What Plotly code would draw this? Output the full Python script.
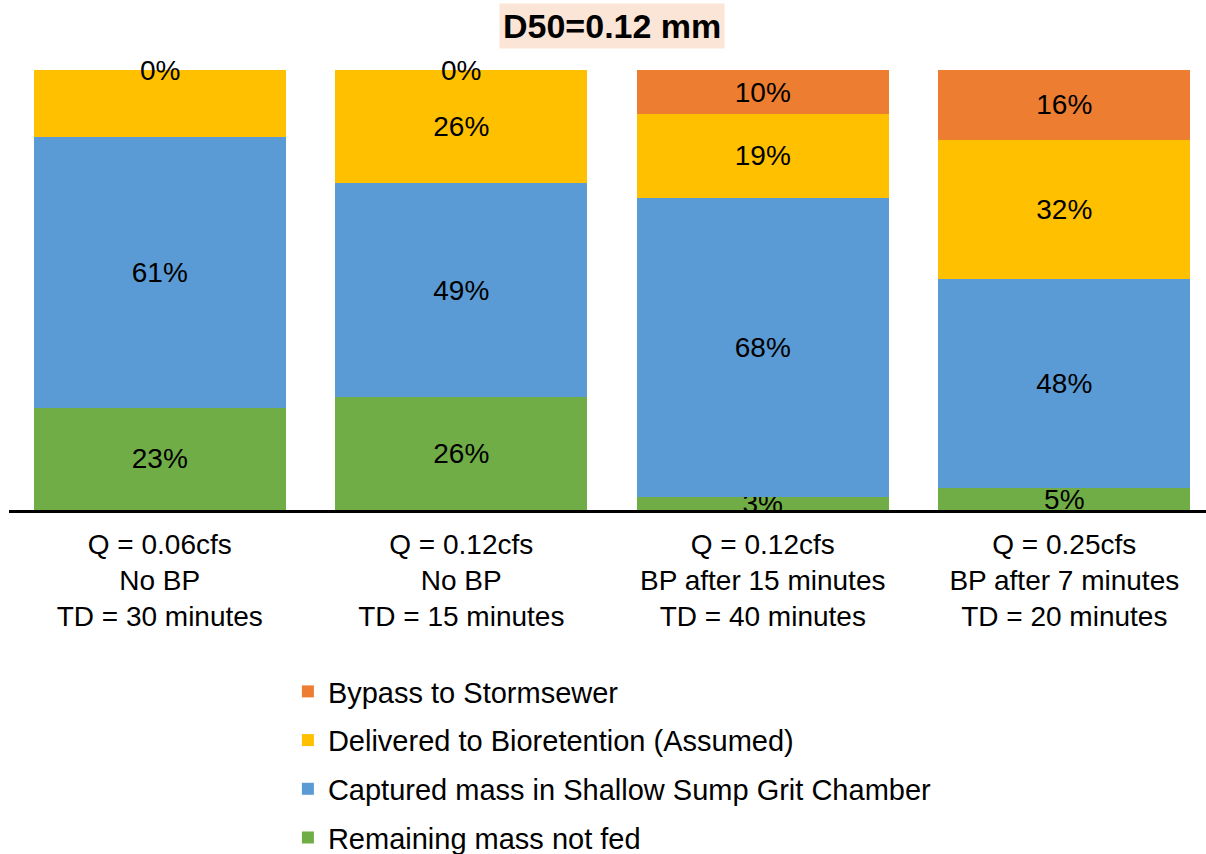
import plotly.graph_objects as go

categories = [
    "Q = 0.06cfs<br>No BP<br>TD = 30 minutes",
    "Q = 0.12cfs<br>No BP<br>TD = 15 minutes",
    "Q = 0.12cfs<br>BP after 15 minutes<br>TD = 40 minutes",
    "Q = 0.25cfs<br>BP after 7 minutes<br>TD = 20 minutes",
]
remaining = [23, 26, 3, 5]
captured = [61, 49, 68, 48]
delivered = [15, 26, 19, 32]
bypass = [0, 0, 10, 16]

series = [
    ("Remaining mass not fed", remaining, "#70AD47"),
    ("Captured mass in Shallow Sump Grit Chamber", captured, "#5B9BD5"),
    ("Delivered to Bioretention (Assumed)", delivered, "#FFC000"),
    ("Bypass to Stormsewer", bypass, "#ED7D31"),
]

font_family = "Liberation Sans, Arial, sans-serif"
FS = 28
fig = go.Figure()
n = len(series)
for i, (name, vals, color) in enumerate(series):
    fig.add_trace(go.Bar(
        x=categories, y=vals, name=name,
        marker=dict(color=color, line=dict(width=0)),
        text=[f"{v}%" for v in vals],
        textposition="inside",
        insidetextanchor="middle",
        textangle=0,
        cliponaxis=False,
        textfont=dict(color="black", size=FS, family=font_family),
        legendrank=n - i,
        legendgroup=f"g{i}",
    ))

# labels for zero-height segments (drawn where the segment sits in the normalized stack)
annotations = []
totals = [sum(s[1][j] for s in series) for j in range(len(categories))]
for j, cat in enumerate(categories):
    cum = 0
    for name, vals, color in series:
        if vals[j] == 0:
            annotations.append(dict(
                x=cat, y=cum / totals[j] * 100, xref="x", yref="y",
                text=f"{vals[j]}%", showarrow=False,
                font=dict(size=FS, color="black", family=font_family),
            ))
        cum += vals[j]

annotations.append(dict(
    text="<b>D50=0.12 mm</b>", x=0.504, xref="paper", y=(510 - 26) / 440,
    yref="paper", yanchor="middle", showarrow=False,
    font=dict(size=34, color="black", family=font_family),
    bgcolor="#FBE5D6", borderpad=3,
))

fig.update_layout(
    width=1206, height=854,
    barmode="stack", barnorm="percent", bargap=0.163,
    plot_bgcolor="white", paper_bgcolor="white",
    margin=dict(l=9, r=0, t=70, b=344),
    font=dict(family=font_family, size=FS, color="black"),
    uniformtext=dict(minsize=FS, mode="show"),
    xaxis=dict(
        range=[-0.5, 3.47], showline=True, linecolor="black", linewidth=3,
        ticks="", tickfont=dict(size=FS, color="black"), showgrid=False,
        ticklabelstandoff=7,
    ),
    yaxis=dict(range=[0, 100], visible=False, showgrid=False),
    legend=dict(
        x=0.233, xanchor="left", yref="container", y=0.2201, yanchor="top",
        traceorder="grouped", tracegroupgap=8,
        font=dict(size=29, color="black"),
    ),
    showlegend=True,
    annotations=annotations,
)

fig.write_html("out.html", config={"displayModeBar": False},
               post_script="document.body.style.margin='0px';")
